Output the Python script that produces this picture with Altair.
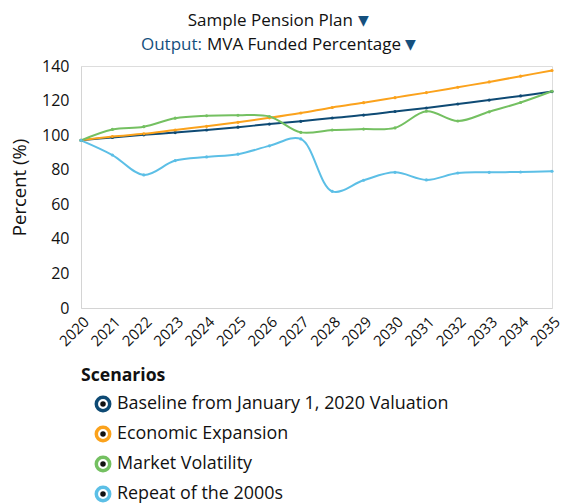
import altair as alt
import pandas as pd

years = list(range(2020, 2036))
scenarios = [
    "Baseline from January 1, 2020 Valuation",
    "Economic Expansion",
    "Market Volatility",
    "Repeat of the 2000s",
]
baseline = [97, 98.7, 100.2, 101.5, 103.0, 104.6, 106.4, 108.0, 109.9, 111.6, 113.7, 115.7, 118.0, 120.3, 122.7, 125.2]
expansion = [97, 99.2, 100.8, 103.0, 105.1, 107.4, 110.0, 112.8, 116.0, 118.8, 121.7, 124.6, 127.7, 130.8, 134.1, 137.4]
volatility = [97, 103.3, 104.9, 109.8, 111.2, 111.5, 110.8, 101.6, 103.0, 103.5, 104.2, 113.8, 108.2, 113.5, 118.9, 125.4]
repeat2000s = [97, 88.5, 77.0, 85.3, 87.4, 89.0, 93.8, 97.8, 67.5, 73.9, 78.5, 74.1, 78.1, 78.5, 78.7, 79.1]
colors = ["#0e4a74", "#fba21c", "#74c061", "#5cbfe6"]
y_ticks = [0, 20, 40, 60, 80, 100, 120, 140]

series = [baseline, expansion, volatility, repeat2000s]
rows = []
for name, vals in zip(scenarios, series):
    for yr, v in zip(years, vals):
        rows.append({"Year": yr, "Percent": v, "Scenario": name})
df = pd.DataFrame(rows)

color_scale = alt.Scale(domain=scenarios, range=colors)
FONT = "Open Sans"
INK = "#111111"
BLUE = "#15507e"

x_enc = alt.X(
    "Year:Q",
    scale=alt.Scale(domain=[2020, 2035], nice=False, zero=False),
    axis=alt.Axis(
        values=years, format="d", title=None, ticks=False, grid=False,
        domainColor="#d4d4d4", labelAngle=-45, labelAlign="right",
        labelBaseline="middle", labelOffset=5, labelPadding=11,
        labelOverlap=False, labelFont=FONT, labelFontSize=15, labelColor=INK,
    ),
)
y_enc = alt.Y(
    "Percent:Q",
    scale=alt.Scale(domain=[0, 140], nice=False),
    axis=alt.Axis(
        values=y_ticks, title="Percent (%)", ticks=False, grid=False,
        domainColor="#d4d4d4", labelPadding=12, labelFont=FONT,
        labelOverlap=False,
        labelFontSize=16, labelColor=INK, titleFont=FONT,
        titleFontSize=18.5, titleFontWeight="normal", titleColor=INK,
        titlePadding=12,
    ),
)
c_enc = alt.Color("Scenario:N", scale=color_scale, legend=None)

base = alt.Chart(df)
lines = base.mark_line(interpolate="catmull-rom", strokeWidth=2).encode(
    x=x_enc, y=y_enc, color=c_enc, order=alt.Order("Year:Q"),
)
points = base.mark_point(filled=True, size=10, opacity=1).encode(
    x=x_enc, y=y_enc, color=c_enc,
)
main = alt.layer(lines, points)

# legend built from the scenario list
leg_df = pd.DataFrame({"Scenario": scenarios})
leg_y = alt.Y("Scenario:N", sort=scenarios,
              scale=alt.Scale(type="point", range=[338, 428], padding=0), axis=None)
leg_ring = alt.Chart(leg_df).mark_point(shape="circle", filled=False, strokeWidth=3.5, size=180, opacity=1).encode(
    x=alt.value(22), y=leg_y, color=c_enc,
)
leg_dot = alt.Chart(leg_df).mark_point(shape="circle", filled=True, size=30, color=INK, opacity=1).encode(
    x=alt.value(22), y=leg_y,
)
leg_text = alt.Chart(leg_df).mark_text(align="left", baseline="middle", font=FONT, fontSize=17.9, color=INK).encode(
    x=alt.value(36), y=leg_y, text="Scenario:N",
)
legend = alt.layer(leg_ring, leg_dot, leg_text)
leg_title = alt.Chart(pd.DataFrame({"t": ["Scenarios"]})).mark_text(
    align="left", baseline="middle", font=FONT, fontSize=17.6, fontWeight="bold", color=INK
).encode(x=alt.value(0), y=alt.value(310), text="t:N")

# header
def txt(s, x, y, align, color, font=FONT, size=17):
    return alt.Chart(pd.DataFrame({"t": [s]})).mark_text(
        align=align, baseline="alphabetic", font=font, fontSize=size, color=color
    ).encode(x=alt.value(x), y=alt.value(y), text="t:N")

h1 = txt("Sample Pension Plan", 272, -40, "right", INK)
h1a = txt("▼", 277, -41, "left", BLUE, font="DejaVu Sans", size=14)
h2a = txt("Output:", 121, -16, "right", BLUE)
h2b = txt("MVA Funded Percentage", 126, -16, "left", INK)
h2c = txt("▼", 324, -17, "left", BLUE, font="DejaVu Sans", size=14)

chart = alt.layer(
    main, legend, leg_title, h1, h1a, h2a, h2b, h2c
).resolve_scale(y="independent").properties(
    width=471, height=242,
    autosize=alt.AutoSizeParams(type="none"),
    padding={"left": 73, "top": 58, "right": 11, "bottom": 196},
).configure_view(stroke=None).configure(background="white")

chart.save("out.html", embed_options={"renderer": "svg", "actions": False})
